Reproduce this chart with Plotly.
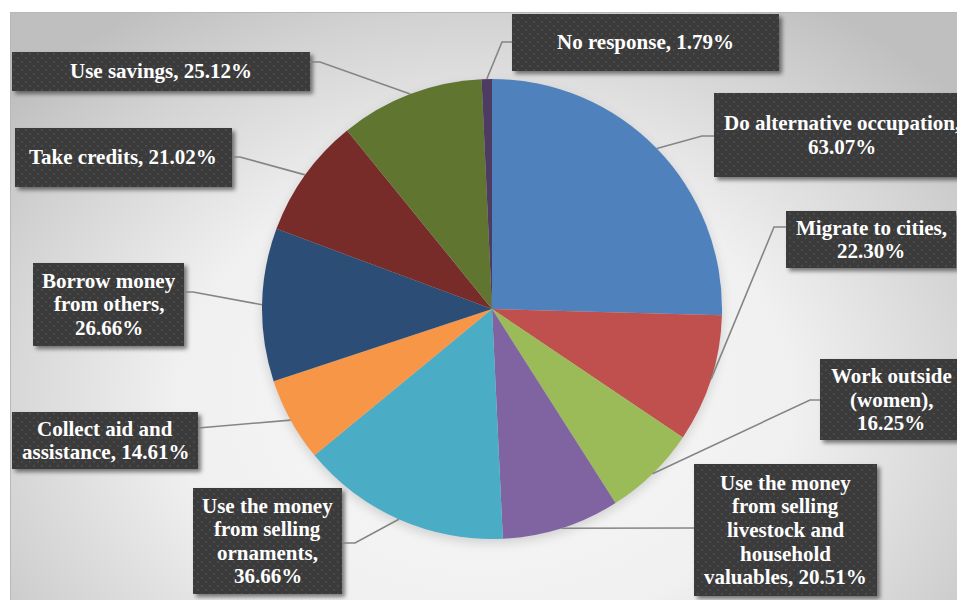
import base64
import math

import plotly.graph_objects as go

# ---- data -------------------------------------------------------------
categories = [
    "Do alternative occupation",
    "Migrate to cities",
    "Work outside (women)",
    "Use the money from selling livestock and household valuables",
    "Use the money from selling ornaments",
    "Collect aid and assistance",
    "Borrow money from others",
    "Take credits",
    "Use savings",
    "No response",
]
values = [63.07, 22.30, 16.25, 20.51, 36.66, 14.61, 26.66, 21.02, 25.12, 1.79]
colors = ["#4F81BD", "#C0504D", "#9BBB59", "#8064A2", "#4BACC6",
          "#F79646", "#2C4D75", "#772C2A", "#5F7530", "#4D3B62"]

# wrapped label text; {v} is replaced by the slice value
label_lines = [
    ["Do alternative occupation,", "{v}"],
    ["Migrate to cities,", "{v}"],
    ["Work outside", "(women),", "{v}"],
    ["Use the money", "from selling", "livestock and", "household", "valuables, {v}"],
    ["Use the money", "from selling", "ornaments,", "{v}"],
    ["Collect aid and", "assistance, {v}"],
    ["Borrow money", "from others,", "{v}"],
    ["Take credits, {v}"],
    ["Use savings, {v}"],
    ["No response, {v}"],
]

# ---- layout (pixels) ----------------------------------------------------
W, H = 957, 600
CX, CY, R = 492, 309, 230

# label boxes: (left, top, right, bottom), leader attach point, elbow point
boxes = [
    (714, 93, 970, 177),
    (786, 211, 956, 268),
    (820, 359, 962, 440),
    (694, 464, 877, 596),
    (193, 488, 342, 594),
    (12, 412, 198, 469),
    (33, 263, 184, 346),
    (15, 128, 232, 187),
    (12, 52, 310, 91),
    (512, 14, 779, 71),
]
attach = [(714, 136), (786, 227), (820, 400), (694, 528), (342, 543),
          (198, 428), (184, 292), (232, 157), (310, 62), (512, 42)]
elbow = [(702, 136), (774, 227), (810, 400), (694, 528), (355, 543),
         (198, 428), (193, 292), (240, 157), (320, 62), (502, 42)]

LINE_H = 23.6
FONT = dict(family="Liberation Serif", size=21, color="white")


def X(px):
    return px / W


def Y(py):
    return 1 - py / H


def svg_uri(svg):
    return "data:image/svg+xml;base64," + base64.b64encode(svg.encode()).decode()


# background: radial grey gradient panel with a soft shadow under the pie
bg_svg = f"""<svg xmlns="http://www.w3.org/2000/svg" width="{W}" height="{H}" viewBox="0 0 {W} {H}" preserveAspectRatio="none">
<defs>
<radialGradient id="g" gradientUnits="userSpaceOnUse" cx="0" cy="0" r="1"
 gradientTransform="translate(485 400) scale(620 470)">
<stop offset="0" stop-color="#f9f9f9"/>
<stop offset="0.5" stop-color="#f0f0f0"/>
<stop offset="0.82" stop-color="#d2d2d2"/>
<stop offset="1" stop-color="#bfbfbf"/>
</radialGradient>
<filter id="b" x="-20%" y="-20%" width="140%" height="140%"><feGaussianBlur stdDeviation="5"/></filter>
</defs>
<rect x="0" y="0" width="{W}" height="{H}" fill="#ffffff"/>
<rect x="10.5" y="12.5" width="{W}" height="{H}" fill="url(#g)" stroke="#b8b8b8" stroke-width="1"/>
<circle cx="{CX}" cy="{CY + 4}" r="{R + 1}" fill="#000" fill-opacity="0.13" filter="url(#b)"/>
</svg>"""

# label boxes: dark dotted fill with a drop shadow
parts = [f"""<svg xmlns="http://www.w3.org/2000/svg" width="{W}" height="{H}" viewBox="0 0 {W} {H}" preserveAspectRatio="none">
<defs>
<pattern id="d" width="8" height="8" patternUnits="userSpaceOnUse">
<rect width="8" height="8" fill="#3b3b3b"/>
<rect x="1" y="1" width="1.7" height="1.7" fill="#4f4f4f"/>
<rect x="5" y="5" width="1.7" height="1.7" fill="#4f4f4f"/>
</pattern>
<filter id="s" x="-20%" y="-20%" width="140%" height="140%"><feGaussianBlur stdDeviation="2"/></filter>
</defs>"""]
for (l, t, r, b) in boxes:
    parts.append(f'<rect x="{l + 3}" y="{t + 3}" width="{r - l}" height="{b - t}" fill="#000" fill-opacity="0.5" filter="url(#s)"/>')
for (l, t, r, b) in boxes:
    parts.append(f'<rect x="{l}" y="{t}" width="{r - l}" height="{b - t}" fill="url(#d)"/>')
parts.append("</svg>")
box_svg = "\n".join(parts)

fig = go.Figure()
fig.add_trace(go.Pie(
    values=values,
    labels=categories,
    marker=dict(colors=colors, line=dict(width=0)),
    sort=False,
    direction="clockwise",
    rotation=0,
    textinfo="none",
    hoverinfo="label+value",
    showlegend=False,
    domain=dict(x=[X(CX - R), X(CX + R)], y=[Y(CY + R), Y(CY - R)]),
))

total = sum(values)
shapes = []
annotations = []
cum = 0.0
for i, v in enumerate(values):
    mid = (cum + v / 2) / total * 2 * math.pi
    cum += v
    sx = CX + R * math.sin(mid)
    sy = CY - R * math.cos(mid)
    ex, ey = elbow[i]
    ax, ay = attach[i]
    path = f"M {X(sx)},{Y(sy)} L {X(ex)},{Y(ey)} L {X(ax)},{Y(ay)}"
    shapes.append(dict(type="path", xref="paper", yref="paper", path=path,
                       line=dict(color="#858585", width=1.6), layer="above"))

    l, t, r, b = boxes[i]
    cxb, cyb = (l + r) / 2, (t + b) / 2
    lines = [s.replace("{v}", f"{v:.2f}%") for s in label_lines[i]]
    n = len(lines)
    for k, s in enumerate(lines):
        yy = cyb + (k - (n - 1) / 2) * LINE_H
        annotations.append(dict(
            x=X(cxb), y=Y(yy), xref="paper", yref="paper",
            text=f"<b>{s}</b>", showarrow=False, font=FONT,
            xanchor="center", yanchor="middle",
        ))

fig.update_layout(
    width=W, height=H,
    margin=dict(l=0, r=0, t=0, b=0),
    paper_bgcolor="white",
    font=dict(family="Liberation Serif"),
    shapes=shapes,
    annotations=annotations,
    images=[
        dict(source=svg_uri(bg_svg), xref="paper", yref="paper", x=0, y=1,
             sizex=1, sizey=1, xanchor="left", yanchor="top",
             sizing="stretch", layer="below"),
        dict(source=svg_uri(box_svg), xref="paper", yref="paper", x=0, y=1,
             sizex=1, sizey=1, xanchor="left", yanchor="top",
             sizing="stretch", layer="above"),
    ],
)

fig.write_html("out.html")
